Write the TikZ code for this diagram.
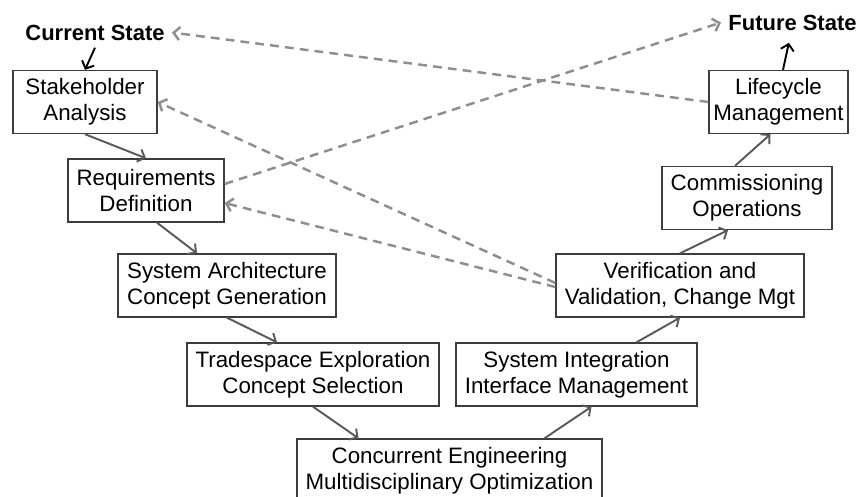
\documentclass[tikz,border=0pt]{standalone}
\usepackage{fontspec}
\setmainfont{Liberation Sans}
\usetikzlibrary{arrows.meta}

\definecolor{boxline}{HTML}{3C3C3C}
\definecolor{flowline}{HTML}{595959}
\definecolor{tieline}{HTML}{8E8E8E}

\tikzset{
  stage/.style={draw=boxline, line width=0.8pt, align=center, inner sep=0pt,
    minimum height=1.26cm, font=\fontsize{12.7}{14.6}\selectfont},
  statelbl/.style={font=\fontsize{12.5}{14.6}\selectfont\bfseries, inner sep=4pt},
  flow/.style={-{Straight Barb[length=3.5pt,width=7.5pt]}, draw=flowline, line width=1.1pt},
  tie/.style={-{Straight Barb[length=3.5pt,width=7.5pt]}, draw=tieline, line width=1.4pt,
    dash pattern=on 5pt off 3.5pt}
}

\begin{document}
\begin{tikzpicture}[x=0.02cm, y=-0.02cm]
\useasboundingbox (0,0) rectangle (860,497);

% Start and end states
\node[statelbl] (cur) at (95,32.5) {Current State};
\node[statelbl] (fut) at (792.5,22.5) {Future State};

% Left leg of the V
\node[stage, minimum width=2.88cm] (stake) at (85,102) {Stakeholder\\Analysis};
\node[stage, minimum width=3.12cm] (req) at (146,190.5) {Requirements\\Definition};
\node[stage, minimum width=4.36cm] (arch) at (227,285.5) {System Architecture\\Concept Generation};
\node[stage, minimum width=5.04cm] (trade) at (313,374.5) {Tradespace Exploration\\Concept Selection};

% Bottom of the V
\node[stage, minimum width=6.1cm] (conc) at (449.5,470.5) {Concurrent Engineering\\Multidisciplinary Optimization};

% Right leg of the V
\node[stage, minimum width=4.82cm] (integ) at (576.5,374.5) {System Integration\\Interface Management};
\node[stage, minimum width=4.96cm] (verif) at (680,285.5) {Verification and\\Validation, Change Mgt};
\node[stage, minimum width=3.4cm] (comm) at (747,198) {Commissioning\\Operations};
\node[stage, minimum width=2.78cm] (life) at (778.5,102) {Lifecycle\\Management};

% Main flow down and up
\draw[flow, draw=black] (cur.south) -- (stake.north);
\draw[flow] (stake.south) -- (req.north);
\draw[flow] ([xshift=0.22cm]req.south) -- ([xshift=-0.6cm]arch.north);
\draw[flow] (arch.south) -- ([xshift=-0.72cm]trade.north);
\draw[flow] (trade.south) -- ([xshift=-1.82cm]conc.north);
\draw[flow] ([xshift=1.9cm]conc.north) -- ([xshift=0.3cm]integ.south);
\draw[flow] ([xshift=1.2cm]integ.north) -- (verif.south);
\draw[flow] (verif.north) -- ([xshift=-0.38cm]comm.south);
\draw[flow] ([xshift=-0.24cm]comm.north) -- ([xshift=-0.16cm]life.south);
\draw[flow, draw=black, shorten >=3pt] ([xshift=0.09cm]life.north) -- ([xshift=-0.05cm]fut.south);

% Feedback and feedforward ties
\draw[tie] (life.west) -- (cur.east);
\draw[tie] ([yshift=0.13cm]req.east) -- (fut.west);
\draw[tie] ([yshift=0.05cm]verif.west) -- (stake.east);
\draw[tie] ([yshift=-0.03cm]verif.west) -- ([yshift=-0.25cm]req.east);

\end{tikzpicture}
\end{document}
